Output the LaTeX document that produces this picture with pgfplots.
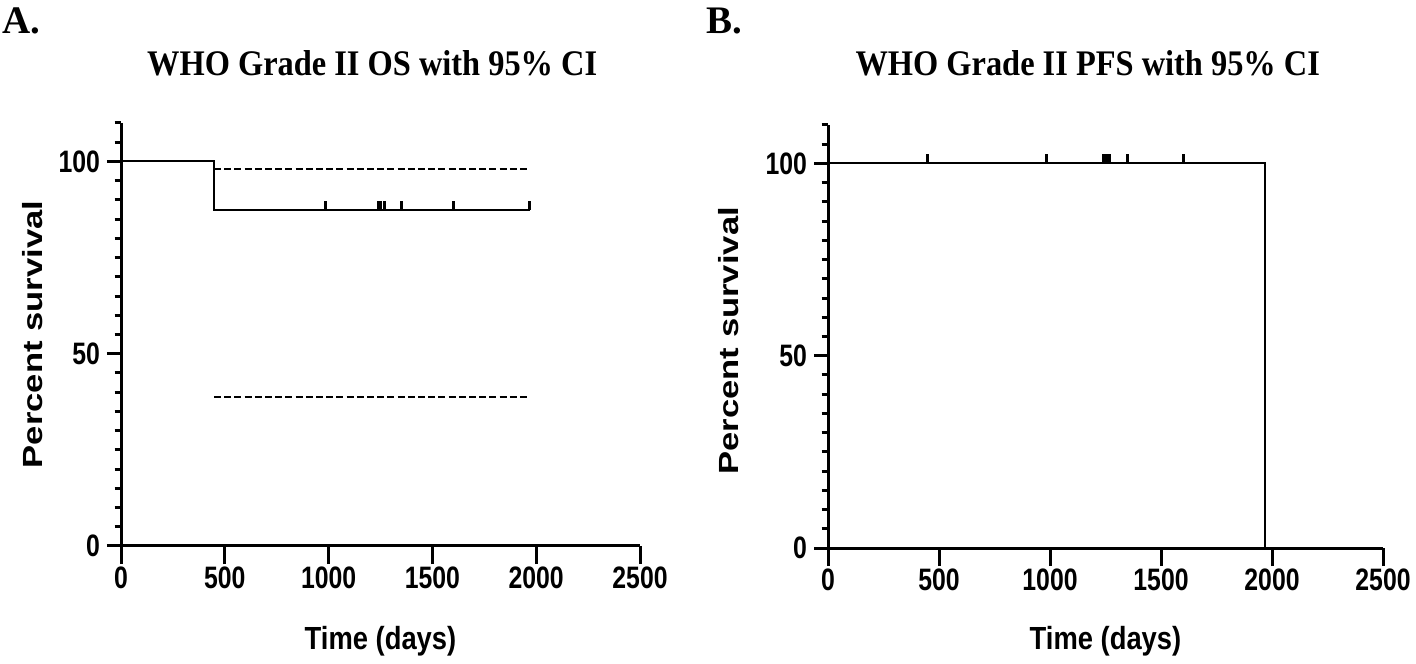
\documentclass[border=0pt]{standalone}
\usepackage{fontspec}
\usepackage{graphicx}
\usepackage{pgfplots}
\pgfplotsset{compat=1.18}
\setmainfont{Liberation Sans}
\newfontfamily\ttlfont[FakeStretch=0.9]{Liberation Serif}
\newfontfamily\panelfont{Liberation Serif}
\newfontfamily\tickfont[FakeStretch=0.8]{Liberation Sans}
\newfontfamily\labfont[FakeStretch=0.855]{Liberation Sans}

\pgfdeclareplotmark{cens}{\pgfpathmoveto{\pgfpointorigin}\pgfpathlineto{\pgfpoint{0pt}{4.5pt}}\pgfusepathqstroke}

\pgfplotsset{km/.style={
  scale only axis, anchor=south west,
  xmin=0, xmax=2500, ymin=0, ymax=110,
  axis lines=left,
  axis line style={line width=1.5pt, -},
  xtick={0,500,...,2500}, ytick={0,50,100},
  minor ytick={5,10,...,45,55,60,...,95,105,110},
  tick align=outside,
  major tick length=7pt, minor tick length=3.2pt,
  x tick style={/pgfplots/major tick length=9pt},
  tick style={line width=1.5pt, black},
  /pgf/number format/assume math mode=true,
  /pgf/number format/set thousands separator={},
  ticklabel style={font=\tickfont\bfseries\fontsize{15.5}{18}\selectfont},
  title style={anchor=center, font=\ttlfont\bfseries\fontsize{18}{21}\selectfont},
  xlabel style={anchor=center, font=\labfont\bfseries\fontsize{16}{19}\selectfont},
  ylabel style={anchor=center, font=\bfseries\fontsize{17.3}{20}\selectfont},
  xlabel={Time (days)},
  ylabel={\scalebox{1}[0.8]{Percent survival}},
  clip=false,
}}

\begin{document}
\begin{tikzpicture}
\path[use as bounding box] (0,0) rectangle (708pt,331.5pt);

% Panel A: OS
\begin{axis}[km, at={(60.5pt,58.5pt)}, width=259.5pt, height=211.5pt,
  title={WHO Grade II OS with 95\% CI},
  title style={at={(0.484,1.113)}},
  xlabel style={at={(0.5,-0.225)}},
  ylabel style={at={(-0.171,0.5)}},
]
\addplot[black, line width=1pt] coordinates {(0,100) (448,100) (448,87.5) (1970,87.5)};
\addplot[black, only marks, mark=cens, mark options={line width=1.5pt}] coordinates {
(987,87.5) (1238,87.5) (1252,87.5) (1267,87.5) (1353,87.5) (1604,87.5) (1970,87.5)};
\addplot[black, line width=0.8pt, dash pattern=on 3.5pt off 1.6pt] coordinates {(448,98.1) (1970,98.1)};
\addplot[black, line width=0.8pt, dash pattern=on 3.5pt off 1.6pt] coordinates {(448,38.7) (1970,38.7)};
\node[font=\panelfont\bfseries\fontsize{19.5}{23}\selectfont] at (rel axis cs:-0.192,1.242) {A.};
\end{axis}

% Panel B: PFS
\begin{axis}[km, at={(414pt,57.5pt)}, width=277.5pt, height=211.5pt,
  title={WHO Grade II PFS with 95\% CI},
  title style={at={(0.468,1.118)}},
  xlabel style={at={(0.5,-0.22)}},
  ylabel style={at={(-0.18,0.49)}},
]
\addplot[black, line width=1pt] coordinates {(0,100) (1970,100) (1970,0)};
\addplot[black, only marks, mark=cens, mark options={line width=1.5pt}] coordinates {
(447,100) (984,100) (1240,100) (1255,100) (1270,100) (1350,100) (1602,100)};
\node[font=\panelfont\bfseries\fontsize{19.5}{23}\selectfont] at (rel axis cs:-0.186,1.246) {B.};
\end{axis}
\end{tikzpicture}
\end{document}
